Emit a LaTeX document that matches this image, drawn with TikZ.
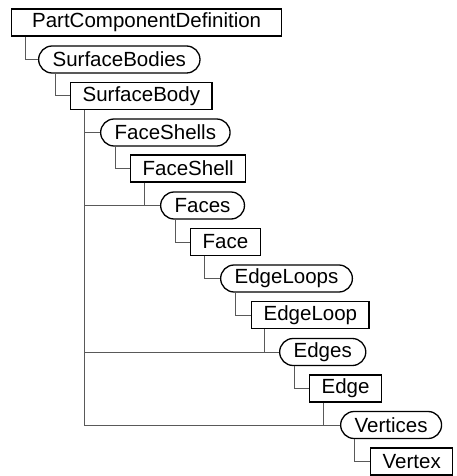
\documentclass[tikz,border=0pt]{standalone}
\usepackage{fontspec}
\setmainfont{Liberation Sans}
\begin{document}
\begin{tikzpicture}[x=1pt, y=-1pt,
  every node/.style={anchor=west, font=\fontsize{20.5}{24}\selectfont, minimum height=27pt, inner ysep=2pt},
  elem/.style={draw, line width=1.3pt, inner xsep=12pt},
  group/.style={draw, line width=1.3pt, inner xsep=14pt, rounded corners=13.5pt},
  link/.style={draw=black!65, line width=1pt}]
\useasboundingbox (0,0) rectangle (457,476);
\node[elem, minimum width=270pt] (pcd) at (11,22.5) {PartComponentDefinition};
\node[group] (sbs) at (38,59.5)  {SurfaceBodies};
\node[elem]  (sb)  at (70,96)    {SurfaceBody};
\node[group] (fss) at (100,132.5) {FaceShells};
\node[elem]  (fs)  at (130,168.5) {FaceShell};
\node[group] (fcs) at (160,205.5) {Faces};
\node[elem]  (fc)  at (190,242)  {Face};
\node[group] (els) at (220,278.5) {EdgeLoops};
\node[elem]  (el)  at (251,315)  {EdgeLoop};
\node[group] (eds) at (279,352)  {Edges};
\node[elem]  (ed)  at (309,388.5) {Edge};
\node[group] (vts) at (340,425)  {Vertices};
\node[elem]  (vt)  at (370,461.5) {Vertex};
% connectors
\draw[link] (pcd.south west) ++(14,0) |- (sbs.west);
\draw[link] (sbs.south west) ++(17,0) |- (sb.west);
\draw[link] (sb.south west) ++(14,0) |- (fss.west);
\draw[link] (sb.south west) ++(14,0) |- (fcs.west);
\draw[link] (sb.south west) ++(14,0) |- (eds.west);
\draw[link] (sb.south west) ++(14,0) |- (vts.west);
\draw[link] (fss.south west) ++(15,0) |- (fs.west);
\draw[link] (fs.south west) ++(14,0) |- (fcs.west);
\draw[link] (fcs.south west) ++(15,0) |- (fc.west);
\draw[link] (fc.south west) ++(14,0) |- (els.west);
\draw[link] (els.south west) ++(15,0) |- (el.west);
\draw[link] (el.south west) ++(13,0) |- (eds.west);
\draw[link] (eds.south west) ++(15,0) |- (ed.west);
\draw[link] (ed.south west) ++(14,0) |- (vts.west);
\draw[link] (vts.south west) ++(14,0) |- (vt.west);
\end{tikzpicture}
\end{document}
